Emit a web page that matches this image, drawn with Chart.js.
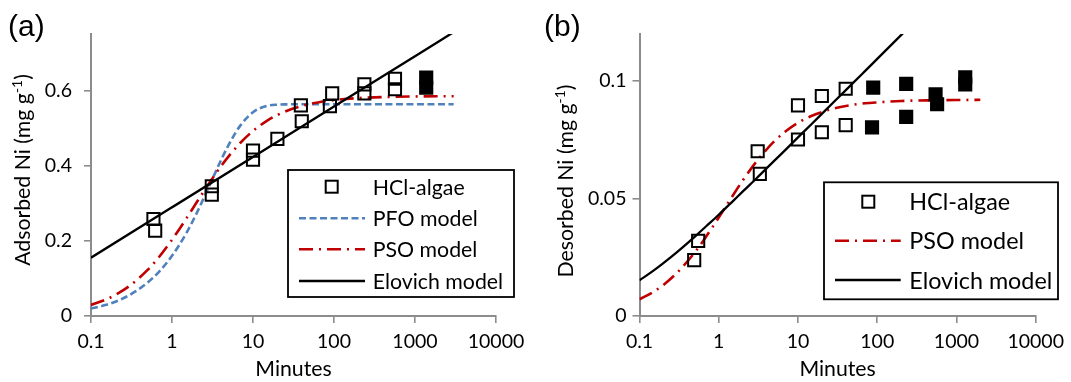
<!DOCTYPE html>
<html><head><meta charset="utf-8">
<script src="https://cdn.jsdelivr.net/npm/chart.js@4.4.1/dist/chart.umd.min.js"></script>
<style>
html,body{margin:0;padding:0;background:#fff;}
#wrap{position:relative;width:1071px;height:382px;overflow:hidden;background:#fff;}
canvas{position:absolute;top:0;}
</style></head><body>
<div id="wrap">
<canvas id="ca" width="540" height="382" style="left:0;width:540px;height:382px"></canvas>
<canvas id="cb" width="531" height="382" style="left:540px;width:531px;height:382px"></canvas>
</div>
<script>
// ---------- shared axis ticks ----------
const xTicks = [0.1, 1, 10, 100, 1000, 10000];
const xTickLabels = ['0.1', '1', '10', '100', '1000', '10000'];

// ---------- panel (a) : adsorption ----------
const yTicksA = [0, 0.2, 0.4, 0.6];
const yTickLabelsA = ['0', '0.2', '0.4', '0.6'];
const timeA_open = [0.59, 0.62, 3.1, 3.1, 10, 10, 20, 39, 40, 89, 95, 237, 237, 566, 566];
const qA_open    = [0.258, 0.227, 0.345, 0.323, 0.440, 0.416, 0.471, 0.560, 0.518, 0.558, 0.592, 0.616, 0.592, 0.631, 0.603];
const timeA_fill = [1375, 1375];
const qA_fill    = [0.634, 0.607];
const timePFO_A = [0.1, 0.15, 0.2, 0.3, 0.5, 0.7, 1, 1.5, 2, 3, 4, 5, 7, 10, 12, 15, 20, 25, 30, 100, 1000, 3000];
const qPFO_A    = [0.020, 0.029, 0.038, 0.056, 0.089, 0.119, 0.160, 0.220, 0.272, 0.354, 0.413, 0.455, 0.507, 0.542, 0.552, 0.559, 0.562, 0.5628, 0.563, 0.563, 0.563, 0.563];
const timePSO_A = [0.1, 0.15, 0.2, 0.3, 0.5, 0.7, 1, 1.5, 2, 3, 4, 5, 7, 10, 15, 20, 30, 50, 70, 100, 200, 500, 1000, 2000, 3000];
const qPSO_A    = [0.0294, 0.0431, 0.0561, 0.0803, 0.1225, 0.1583, 0.2027, 0.2591, 0.3010, 0.3591, 0.3975, 0.4247, 0.4608, 0.4921, 0.5196, 0.5346, 0.5504, 0.5637, 0.5697, 0.5742, 0.5795, 0.5828, 0.5839, 0.5845, 0.5846];
const timeElo_A = [0.1, 1, 10, 100, 1000, 3000];
const qElo_A    = [0.155, 0.289, 0.423, 0.557, 0.691, 0.755];

// ---------- panel (b) : desorption ----------
const yTicksB = [0, 0.05, 0.1];
const yTickLabelsB = ['0', '0.05', '0.1'];
const timeB_open = [0.49, 0.55, 3.1, 3.3, 10, 10, 20, 20, 40, 40];
const qB_open    = [0.0238, 0.0320, 0.0701, 0.0605, 0.0896, 0.0751, 0.0936, 0.0782, 0.0967, 0.0812];
const timeB_fill = [89, 86, 232, 232, 545, 570, 1290, 1290];
const qB_fill    = [0.0972, 0.0803, 0.0988, 0.0847, 0.0943, 0.0901, 0.1016, 0.0985];
const timePSO_B = [0.1, 0.15, 0.2, 0.3, 0.5, 0.7, 1, 1.5, 2, 3, 4, 5, 7, 10, 15, 20, 30, 50, 70, 100, 200, 500, 1000, 2000];
const qPSO_B    = [0.0071, 0.0103, 0.0132, 0.0185, 0.0271, 0.0340, 0.0419, 0.0512, 0.0576, 0.0658, 0.0708, 0.0743, 0.0786, 0.0822, 0.0852, 0.0868, 0.0885, 0.0899, 0.0905, 0.0909, 0.0915, 0.0918, 0.0919, 0.0920];
const timeElo_B = [0.1, 0.15, 0.2, 0.3, 0.5, 0.7, 1, 1.5, 2, 3, 5, 7, 10, 15, 20, 30, 50, 70, 100, 200, 300];
const qElo_B    = [0.0152, 0.0193, 0.0225, 0.0273, 0.0338, 0.0383, 0.0431, 0.0488, 0.0529, 0.0586, 0.0660, 0.0708, 0.0760, 0.0818, 0.0860, 0.0919, 0.0993, 0.1042, 0.1094, 0.1195, 0.1254];

// ---------- styling ----------
const FONT = 'Lato, "Open Sans", sans-serif';
const AXIS_GREY = '#8c8c8c';
const BLUE = '#4f81bd';
const RED = '#c00000';

function pts(xs, ys) { return xs.map((x, i) => ({ x: x, y: ys[i] })); }

function fitSize(text, target, family) {
  const c = document.createElement('canvas').getContext('2d');
  c.font = '100px ' + family;
  return 100 * target / c.measureText(text).width;
}

const deco = {
  id: 'deco',
  afterDraw(chart, args, o) {
    const ctx = chart.ctx, ca = chart.chartArea;
    ctx.save();
    ctx.fillStyle = '#000';
    // panel tag
    ctx.font = '30px "Liberation Sans", Arial, sans-serif';
    ctx.textAlign = 'left'; ctx.textBaseline = 'alphabetic';
    ctx.fillText(o.tag, o.tagX, o.tagY);
    // x title
    ctx.font = o.titleSize + 'px ' + FONT;
    ctx.textAlign = 'center';
    ctx.fillText('Minutes', (ca.left + ca.right) / 2, o.xTitleY);
    // y title with superscript
    ctx.save();
    ctx.translate(o.yTitleX, o.yTitleCY);
    ctx.rotate(-Math.PI / 2);
    ctx.textAlign = 'left';
    const big = o.titleSize + 'px ' + FONT, small = Math.round(o.titleSize * 0.65) + 'px ' + FONT;
    ctx.font = big; const w1 = ctx.measureText(o.yTitle).width; const w3 = ctx.measureText(')').width;
    ctx.font = small; const w2 = ctx.measureText('-1').width;
    let x = -(w1 + w2 + w3) / 2;
    ctx.font = big; ctx.fillText(o.yTitle, x, 0); x += w1;
    ctx.font = small; ctx.fillText('-1', x, -o.titleSize * 0.38); x += w2;
    ctx.font = big; ctx.fillText(')', x, 0);
    ctx.restore();
    // legend box
    const L = o.legend;
    ctx.fillStyle = '#fff';
    ctx.fillRect(L.x0, L.y0, L.x1 - L.x0, L.y1 - L.y0);
    ctx.strokeStyle = '#000'; ctx.lineWidth = 1.8;
    ctx.strokeRect(L.x0, L.y0, L.x1 - L.x0, L.y1 - L.y0);
    L.rows.forEach((r, i) => {
      const ds = chart.data.datasets[r];
      const y = L.rowY[i];
      ctx.save();
      if (ds.showLine === false) {
        ctx.strokeStyle = '#000'; ctx.lineWidth = 2;
        ctx.strokeRect(L.markX - 6, y - 6, 12, 12);
      } else {
        ctx.strokeStyle = ds.borderColor; ctx.lineWidth = ds.borderWidth;
        ctx.setLineDash(ds.borderDash || []);
        ctx.beginPath(); ctx.moveTo(L.lineX0, y); ctx.lineTo(L.lineX1, y); ctx.stroke();
      }
      ctx.restore();
      ctx.fillStyle = '#000';
      ctx.font = L.size + 'px ' + FONT;
      ctx.textAlign = 'left'; ctx.textBaseline = 'middle';
      ctx.fillText(ds.label, L.textX, y + 1);
    });
    ctx.restore();
  }
};

function build() {
  const tickSize = fitSize('1000', 45.3, FONT);
  const titleSize = fitSize('Minutes', 76.5, FONT);
  const legSizeA = fitSize('Elovich model', 130.5, FONT);
  const legSizeB = fitSize('Elovich model', 143, FONT);

  function scales(yMax, yTicks, yLabels, yWidth, yPad, bottom) {
    return {
      x: {
        type: 'logarithmic', min: 0.1, max: 10000,
        afterBuildTicks: s => { s.ticks = xTicks.map(v => ({ value: v })); },
        afterFit: s => { s.height = 382 - bottom; },
        ticks: { autoSkip: false, maxRotation: 0, minRotation: 0, padding: 7, color: '#000',
                 font: { family: FONT, size: tickSize }, callback: (v, i) => xTickLabels[i] },
        grid: { display: true, drawOnChartArea: false, drawTicks: true, tickLength: 7, color: AXIS_GREY, lineWidth: 1.6 },
        border: { display: true, color: AXIS_GREY, width: 2 }
      },
      y: {
        type: 'linear', min: 0, max: yMax,
        afterBuildTicks: s => { s.ticks = yTicks.map(v => ({ value: v })); },
        afterFit: s => { s.width = yWidth; },
        ticks: { padding: yPad, color: '#000', font: { family: FONT, size: tickSize },
                 callback: (v, i) => yLabels[i] },
        grid: { display: true, drawOnChartArea: false, drawTicks: true, tickLength: 7, color: AXIS_GREY, lineWidth: 1.6 },
        border: { display: true, color: AXIS_GREY, width: 2 }
      }
    };
  }

  const sq = (label, xs, ys, fill) => ({
    label: label, data: pts(xs, ys), showLine: false,
    pointStyle: 'rect', pointRadius: 8.6, pointHoverRadius: 8.6,
    pointBorderColor: '#000', pointBorderWidth: 2,
    pointBackgroundColor: fill ? '#000' : 'rgba(0,0,0,0)', order: 0
  });
  const ln = (label, xs, ys, color, dash, width, order) => ({
    label: label, data: pts(xs, ys), showLine: true, borderColor: color,
    borderWidth: width, borderDash: dash, pointRadius: 0, pointHoverRadius: 0,
    cubicInterpolationMode: 'monotone', fill: false, order: order
  });

  const common = {
    responsive: false, animation: false, events: [],
    plugins: { legend: { display: false }, tooltip: { enabled: false } }
  };

  new Chart(document.getElementById('ca'), {
    type: 'scatter',
    data: { datasets: [
      sq('HCl-algae', timeA_open, qA_open, false),
      sq('', timeA_fill, qA_fill, true),
      ln('PFO model', timePFO_A, qPFO_A, BLUE, [7, 3.5], 2.6, 3),
      ln('PSO model', timePSO_A, qPSO_A, RED, [14, 6, 2, 6], 2.6, 2),
      ln('Elovich model', timeElo_A, qElo_A, '#000', [], 2.3, 1)
    ]},
    options: Object.assign({}, common, {
      layout: { padding: { top: 34, right: 540 - 496, bottom: 0, left: 0 } },
      scales: scales(0.75, yTicksA, yTickLabelsA, 91, 12, 316),
      plugins: Object.assign({}, common.plugins, { deco: {
        tag: '(a)', tagX: 8, tagY: 35.5, titleSize: titleSize, xTitleY: 376,
        yTitle: 'Adsorbed Ni (mg g', yTitleX: 30, yTitleCY: 170,
        legend: { x0: 288, y0: 170, x1: 514, y1: 297, rows: [0, 2, 3, 4], rowY: [186.7, 218.3, 249.3, 281],
                  markX: 331.7, lineX0: 299, lineX1: 365, textX: 372.7, size: legSizeA }
      }})
    }),
    plugins: [deco]
  });

  new Chart(document.getElementById('cb'), {
    type: 'scatter',
    data: { datasets: [
      sq('HCl-algae', timeB_open, qB_open, false),
      sq('', timeB_fill, qB_fill, true),
      ln('PSO model', timePSO_B, qPSO_B, RED, [14, 6, 2, 6], 2.6, 2),
      ln('Elovich model', timeElo_B, qElo_B, '#000', [], 2.3, 1)
    ]},
    options: Object.assign({}, common, {
      layout: { padding: { top: 34, right: 531 - 499.5, bottom: 0, left: 0 } },
      scales: scales(0.12, yTicksB, yTickLabelsB, 99.5, 6, 316),
      plugins: Object.assign({}, common.plugins, { deco: {
        tag: '(b)', tagX: 4, tagY: 35.5, titleSize: titleSize, xTitleY: 376,
        yTitle: 'Desorbed Ni (mg g', yTitleX: 33, yTitleCY: 181,
        legend: { x0: 284, y0: 182.3, x1: 518, y1: 299.3, rows: [0, 2, 3], rowY: [201.7, 240.7, 280],
                  markX: 328.3, lineX0: 295, lineX1: 360.7, textX: 369.3, size: legSizeB }
      }})
    }),
    plugins: [deco]
  });
}

Promise.all([
  document.fonts.load('20px Lato'),
  document.fonts.load('30px "Liberation Sans"')
]).catch(() => {}).then(build);
</script>
</body></html>
